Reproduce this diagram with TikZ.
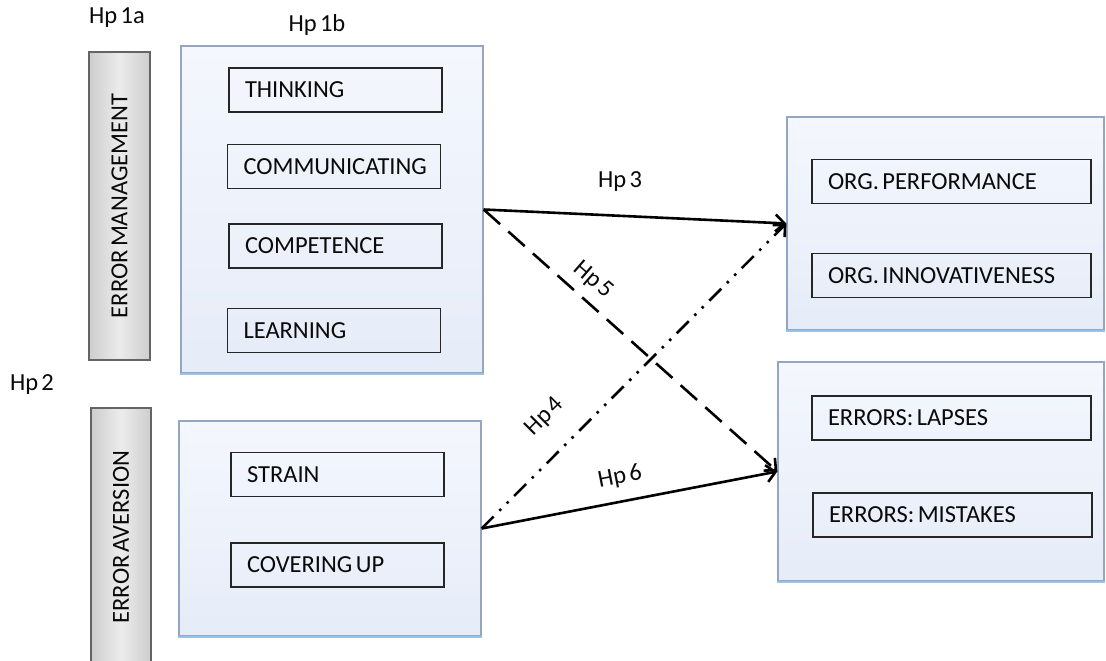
\documentclass[tikz,border=0pt]{standalone}
\usepackage{fontspec}
\setmainfont[WordSpace=0.6]{Carlito}
\frenchspacing
\usetikzlibrary{arrows.meta}
\definecolor{panelTop}{RGB}{244,247,253}
\definecolor{panelBot}{RGB}{230,236,248}
\definecolor{panelEdge}{RGB}{150,165,192}
\definecolor{panelBase}{RGB}{150,195,235}
\definecolor{barMid}{RGB}{236,236,236}
\definecolor{barSide}{RGB}{205,205,205}
\definecolor{barEdge}{RGB}{100,100,100}
\definecolor{inkText}{RGB}{10,10,10}
\begin{document}
\begin{tikzpicture}[x=1pt,y=-1pt,
  font=\fontsize{24.5}{28}\selectfont, text=inkText,
  panel/.style={draw=panelEdge, line width=1.3pt, top color=panelTop,
    bottom color=panelBot, inner sep=0pt},
  sidebar/.style={draw=barEdge, line width=1.6pt, left color=barSide,
    right color=barSide, middle color=barMid, inner sep=0pt},
  item/.style={draw=black!85, line width=1.2pt, inner xsep=16pt,
    inner ysep=0pt, minimum height=44pt, align=left,
    execute at begin node={\spaceskip=0.14em\xspaceskip=0.14em\relax}},
  narrow/.style={item, text width=181pt},
  wide/.style={item, text width=247pt},
  link/.style={line width=2.6pt, draw=black,
    -{Straight Barb[length=9pt,width=17pt]}},
  hp/.style={inner sep=0pt}
]
\clip (0,0) rectangle (1106,661);
\fill[white] (0,0) rectangle (1106,661);

% side bars with vertical titles
\node[sidebar, minimum width=61pt, minimum height=308pt] (bar1) at (119.5,206) {};
\node[rotate=90] (title1) at (bar1.center) {ERROR MANAGEMENT};
\node[sidebar, minimum width=60pt, minimum height=262pt] (bar2) at (121,539) {};
\node[rotate=90] (title2) at (121,537) {ERROR AVERSION};

% panels
\node[panel, minimum width=302pt, minimum height=327pt] (box1) at (332,209.5) {};
\node[panel, minimum width=302pt, minimum height=215pt] (box2) at (330,528.5) {};
\node[panel, minimum width=317pt, minimum height=213pt] (box3) at (945.5,223.5) {};
\node[panel, minimum width=326pt, minimum height=219pt] (box4) at (941,471.5) {};
\foreach \b in {box1,box2,box3,box4}
  \draw[panelBase, line width=2pt] (\b.south west) -- (\b.south east);

% items
\node[narrow] (think) at (335.5,90) {THINKING};
\node[narrow] (comm) at (334,166.5) {COMMUNICATING};
\node[narrow] (comp) at (335.5,246) {COMPETENCE};
\node[narrow] (learn) at (334,330.5) {LEARNING};
\node[narrow] (strain) at (337.5,474.5) {STRAIN};
\node[narrow] (cover) at (337.5,565) {COVERING UP};
\node[wide] (perf) at (951.5,181.5) {ORG. PERFORMANCE};
\node[wide] (innov) at (951.5,275.5) {ORG. INNOVATIVENESS};
\node[wide] (lapse) at (951.5,418) {ERRORS: LAPSES};
\node[wide] (mist) at (952.5,515) {ERRORS: MISTAKES};

% hypothesis connectors
\draw[link] (box1.east) -- (box3.west);
\draw[link, dash pattern=on 22pt off 11pt] (box1.east) -- (box4.west);
\draw[link] (box2.east) -- (box4.west);
\draw[link, dash pattern=on 17pt off 8pt on 2.5pt off 8pt on 2.5pt off 8pt]
  (box2.east) -- (box3.west);

% hypothesis labels
\node[hp] (hp1a) at (117,18) {Hp 1a};
\node[hp] (hp1b) at (317,25) {Hp 1b};
\node[hp] (hp2) at (32,385) {Hp 2};
\node[hp] (hp3) at (620,182) {Hp 3};
\node[hp, rotate=45] (hp4) at (545,417) {Hp 4};
\node[hp, rotate=-41] (hp5) at (593,280) {Hp 5};
\node[hp, rotate=11] (hp6) at (620,477) {Hp 6};
\end{tikzpicture}
\end{document}
